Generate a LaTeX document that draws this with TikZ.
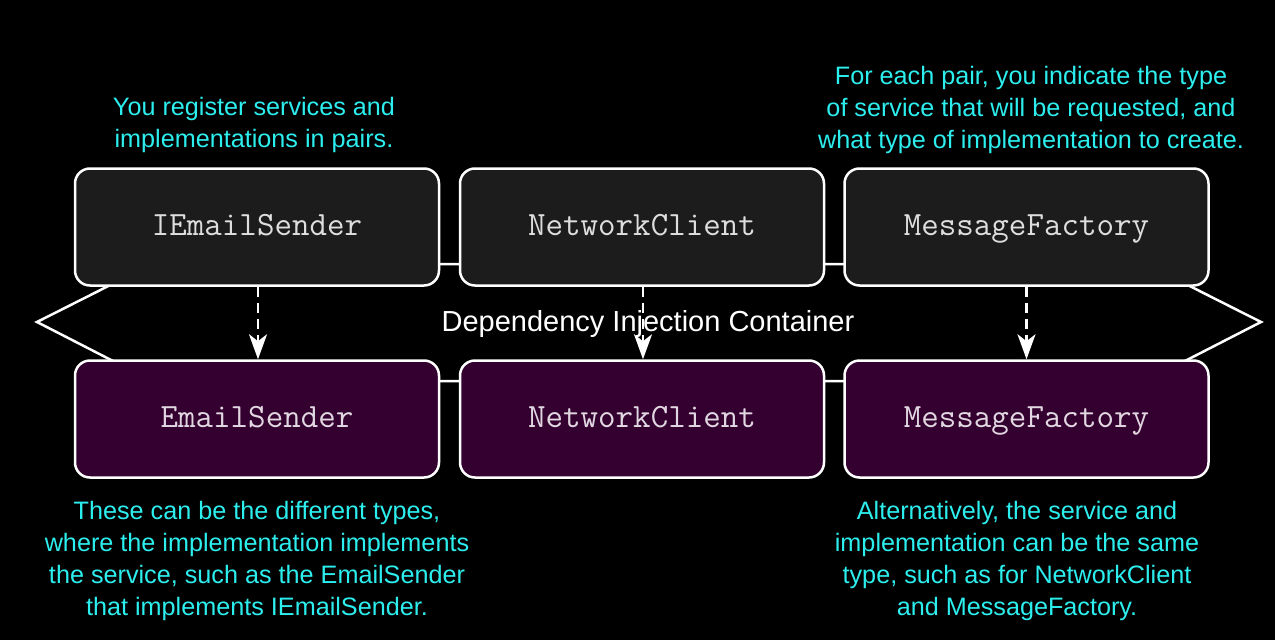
\documentclass[tikz,border=0pt]{standalone}
\usepackage{fontspec}
\setmainfont{Liberation Sans}
\usetikzlibrary{arrows.meta}
\definecolor{cyantext}{RGB}{45,238,238}
\definecolor{topfill}{RGB}{28,28,28}
\definecolor{botfill}{RGB}{52,0,48}
\definecolor{boxtext}{RGB}{222,222,222}
\definecolor{bottext}{RGB}{225,215,225}
\tikzset{
  svcbox/.style={draw=white, line width=2.5pt, rounded corners=15pt, minimum width=364pt, minimum height=117pt, inner sep=0pt, text height=22pt, text depth=5pt, font=\ttfamily\fontsize{34}{36}\selectfont},
  topbox/.style={svcbox, fill=topfill, text=boxtext},
  botbox/.style={svcbox, fill=botfill, text=bottext},
  note/.style={text=cyantext, align=center, inner sep=0pt, font=\fontsize{25.2}{32}\selectfont},
  regarrow/.style={draw=white, line width=2.5pt, dash pattern=on 10pt off 6pt, -{Stealth[length=25pt,width=18pt,inset=7pt]}},
}
\begin{document}
\begin{tikzpicture}[x=1pt,y=-1pt]
\fill[black] (0,0) rectangle (1275,640);
\useasboundingbox (0,0) rectangle (1275,640);
% container hexagon
\coordinate (hl) at (37,322);
\coordinate (htl) at (152,264);
\coordinate (htr) at (1146,264);
\coordinate (hr) at (1261,322);
\coordinate (hbr) at (1146,381);
\coordinate (hbl) at (152,381);
\draw[white, line width=2.5pt, fill=black, line join=miter] (hl) -- (htl) -- (htr) -- (hr) -- (hbr) -- (hbl) -- cycle;
\node[text=white, inner sep=0pt, font=\fontsize{29}{34}\selectfont] (cont) at (648,324) {Dependency Injection Container};
% boxes
\node[topbox] (s1) at (257,227) {IEmailSender};
\node[topbox] (s2) at (642,227) {NetworkClient};
\node[topbox] (s3) at (1026.5,227) {MessageFactory};
\node[botbox] (i1) at (257,419) {EmailSender};
\node[botbox] (i2) at (642,419) {NetworkClient};
\node[botbox] (i3) at (1026.5,419) {MessageFactory};
% arrows
\draw[regarrow] ([xshift=1pt]s1.south) -- ([xshift=1pt]i1.north);
\draw[regarrow] ([xshift=1pt]s2.south) -- ([xshift=1pt]i2.north);
\draw[regarrow] (s3.south) -- (i3.north);
% notes
\node[note] (n1) at (254,125) {You register services and\\implementations in pairs.};
\node[note] (n2) at (1031,110) {For each pair, you indicate the type\\of service that will be requested, and\\what type of implementation to create.};
\node[note] (n3) at (257,561) {These can be the different types,\\where the implementation implements\\the service, such as the EmailSender\\that implements IEmailSender.};
\node[note] (n4) at (1017,561) {Alternatively, the service and\\implementation can be the same\\type, such as for NetworkClient\\and MessageFactory.};
\end{tikzpicture}
\end{document}
